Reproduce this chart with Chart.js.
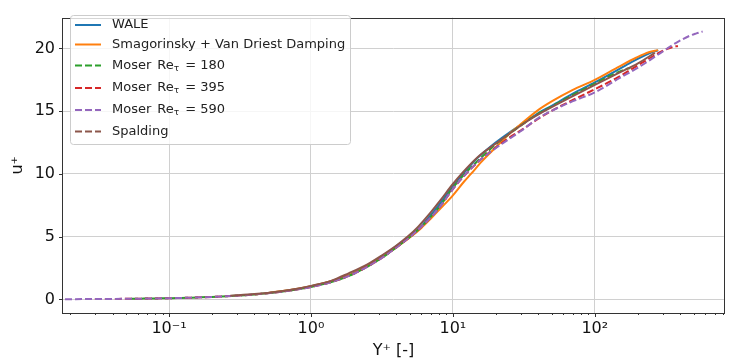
<!DOCTYPE html>
<html>
<head>
<meta charset="utf-8">
<script src="https://cdn.jsdelivr.net/npm/chart.js@4"></script>
<style>
body { margin: 0; background: #fff }
#wrap { width: 729px; height: 363px; position: relative }
</style>
</head>
<body>
<div id="wrap"><canvas id="chart"></canvas></div>
<script>
// velocity profiles (y+ and u+)
const waleYPlus = [0.5, 0.8, 1.0, 1.5, 2.0, 3.0, 4.0, 5.0, 6.0, 7.0, 8.0, 10, 12, 15, 20, 25, 30, 40, 50, 70, 100, 140, 180, 220, 260, 280]
const waleUPlus = [0.52, 0.84, 1.06, 1.58, 2.12, 3.25, 4.25, 5.05, 5.85, 6.75, 7.55, 9.05, 10.1, 11.3, 12.5, 13.3, 13.9, 14.85, 15.45, 16.4, 17.3, 18.2, 18.9, 19.4, 19.75, 19.85]

const smagYPlus = [0.5, 1.0, 2.0, 3.0, 4.0, 5.0, 6.0, 7.0, 8.1, 10, 12, 13.4, 16, 20.6, 25, 30, 39.4, 50, 70, 100, 140, 197, 240, 279]
const smagUPlus = [0.52, 1.05, 2.1, 3.2, 4.15, 4.95, 5.7, 6.45, 7.2, 8.3, 9.4, 10.0, 11.0, 12.25, 13.2, 13.95, 15.05, 15.8, 16.7, 17.5, 18.4, 19.28, 19.7, 19.87]

const m180YPlus = [0.054, 0.1, 0.2, 0.4, 0.7, 1.0, 1.5, 2.0, 3.0, 4.0, 5.0, 6.0, 7.0, 8.0, 10, 12, 15, 20, 25, 30, 40, 50, 70, 100, 130, 160, 178]
const m180UPlus = [0.054, 0.1, 0.2, 0.4, 0.7, 1.0, 1.5, 2.05, 3.15, 4.15, 5.0, 5.8, 6.6, 7.35, 8.9, 9.95, 11.05, 12.35, 13.2, 13.85, 14.8, 15.4, 16.3, 17.2, 17.85, 18.3, 18.45]

const m395YPlus = [0.03, 0.06, 0.1, 0.2, 0.4, 0.7, 1.0, 1.5, 2.0, 3.0, 4.0, 5.0, 6.0, 7.0, 8.0, 10, 12, 15, 20, 25, 30, 40, 50, 70, 100, 140, 197, 250, 300, 350, 385]
const m395UPlus = [0.03, 0.06, 0.1, 0.2, 0.4, 0.7, 1.0, 1.5, 2.05, 3.15, 4.15, 5.0, 5.8, 6.55, 7.3, 8.8, 9.85, 10.95, 12.1, 12.9, 13.45, 14.4, 15.05, 15.9, 16.75, 17.6, 18.6, 19.3, 19.8, 20.1, 20.2]

const m590YPlus = [0.0185, 0.04, 0.07, 0.1, 0.15, 0.2, 0.3, 0.5, 0.7, 1.0, 1.5, 2.0, 3.0, 4.0, 5.0, 6.0, 7.0, 8.0, 10, 12, 15, 20, 25, 30, 40, 50, 70, 100, 150, 200, 250, 300, 374, 464, 520, 575]
const m590UPlus = [0.02, 0.04, 0.07, 0.1, 0.15, 0.2, 0.3, 0.5, 0.7, 1.0, 1.5, 2.05, 3.15, 4.15, 5.0, 5.8, 6.55, 7.3, 8.8, 9.85, 10.95, 12.05, 12.8, 13.4, 14.45, 15.05, 15.8, 16.5, 17.65, 18.45, 19.15, 19.75, 20.45, 21.0, 21.2, 21.35]

const spaldingYPlus = [0.27, 0.4, 0.6, 0.82, 1.0, 1.4, 1.84, 2.5, 3.15, 4.0, 4.85, 5.7, 7.0, 8.1, 10, 11.7, 15, 21.7, 33.4, 44, 70, 100, 150, 200, 265]
const spaldingUPlus = [0.3, 0.43, 0.64, 0.87, 1.08, 1.5, 2.08, 2.8, 3.5, 4.3, 5.05, 5.8, 6.95, 7.85, 9.2, 10.1, 11.35, 12.7, 14.2, 15.0, 16.2, 17.1, 18.1, 18.8, 19.65]

const xMajorTicks = [0.1, 1, 10, 100]
const xMajorLabels = ["10⁻¹", "10⁰", "10¹", "10²"]
const yTicks = [0, 5, 10, 15, 20]

const series = [
	{ name: "WALE", x: waleYPlus, y: waleUPlus, color: "#1f77b4", dash: [] },
	{ name: "Smagorinsky + Van Driest Damping", x: smagYPlus, y: smagUPlus, color: "#ff7f0e", dash: [] },
	{ name: "Moser", sub: "180", x: m180YPlus, y: m180UPlus, color: "#2ca02c", dash: [7, 3] },
	{ name: "Moser", sub: "395", x: m395YPlus, y: m395UPlus, color: "#d62728", dash: [7, 3] },
	{ name: "Moser", sub: "590", x: m590YPlus, y: m590UPlus, color: "#9467bd", dash: [7, 3] },
	{ name: "Spalding", x: spaldingYPlus, y: spaldingUPlus, color: "#8c564b", dash: [], legendDash: [7, 3] },
]

const xTicks = []
for (let e = -2; e <= 2; e++) {
	for (let m = 1; m <= 9; m++) {
		const v = Number((m * Math.pow(10, e)).toPrecision(3))
		if (v < 0.0179 || v > 811) continue
		xTicks.push({ value: v, major: m == 1 })
	}
}

const FONT = "DejaVu Sans"

const decorations = {
	id: "decorations",
	afterDraw(chart) {
		const ctx = chart.ctx
		const area = chart.chartArea
		const xs = chart.scales.x
		const ys = chart.scales.y
		ctx.save()
		// frame
		ctx.strokeStyle = "#333"
		ctx.lineWidth = 1
		ctx.strokeRect(Math.round(area.left) - 0.5, Math.round(area.top) + 0.5, Math.round(area.right - area.left) + 1, Math.round(area.bottom - area.top))
		// tick marks
		ctx.beginPath()
		xTicks.forEach(t => {
			const px = Math.round(xs.getPixelForValue(t.value)) + 0.5
			ctx.moveTo(px, area.bottom)
			ctx.lineTo(px, area.bottom + (t.major ? 4 : 2))
		})
		yTicks.forEach(v => {
			const py = Math.round(ys.getPixelForValue(v)) + 0.5
			ctx.moveTo(area.left - 4, py)
			ctx.lineTo(area.left, py)
		})
		ctx.stroke()

		// axis titles
		ctx.fillStyle = "#111"
		ctx.font = "16px " + FONT
		ctx.textAlign = "center"
		ctx.textBaseline = "middle"
		ctx.fillText("Y⁺ [-]", (area.left + area.right) / 2, 351)
		ctx.save()
		ctx.translate(18, (area.top + area.bottom) / 2)
		ctx.rotate(-Math.PI / 2)
		ctx.fillText("u⁺", 0, 0)
		ctx.restore()

		// legend
		const bx = 70.5, by = 15.5, bw = 280, bh = 129
		ctx.beginPath()
		ctx.roundRect(bx, by, bw, bh, 3)
		ctx.fillStyle = "rgba(255,255,255,0.8)"
		ctx.fill()
		ctx.strokeStyle = "#cccccc"
		ctx.stroke()
		const rows = [25, 44.5, 65.5, 88, 110, 131.5]
		ctx.textAlign = "left"
		series.forEach((s, i) => {
			const y = rows[i]
			ctx.strokeStyle = s.color
			ctx.lineWidth = 2
			ctx.setLineDash(s.legendDash || s.dash)
			ctx.beginPath()
			ctx.moveTo(75, y)
			ctx.lineTo(101, y)
			ctx.stroke()
			ctx.setLineDash([])
			ctx.fillStyle = "#222"
			ctx.font = "13px " + FONT
			let x = 112
			if (s.sub) {
				ctx.fillText(s.name, x, y)
				x += ctx.measureText(s.name).width + 6
				ctx.fillText("Re", x, y)
				x += ctx.measureText("Re").width
				ctx.font = "9px " + FONT
				ctx.fillText("τ", x, y + 3)
				x += ctx.measureText("τ").width + 2
				ctx.font = "13px " + FONT
				ctx.fillText(" = " + s.sub, x, y)
			} else {
				ctx.fillText(s.name, x, y)
			}
		})
		ctx.restore()
	}
}

new Chart(document.getElementById("chart"), {
	type: "line",
	data: {
		datasets: series.map((s, i) => ({
			label: s.name,
			data: s.x.map((v, j) => ({ x: v, y: s.y[j] })),
			borderColor: s.color,
			borderWidth: 2,
			borderDash: s.dash,
			pointRadius: 0,
			fill: false,
			cubicInterpolationMode: "monotone",
			order: series.length - i,
		})),
	},
	options: {
		responsive: true,
		maintainAspectRatio: false,
		animation: false,
		devicePixelRatio: 1,
		layout: { padding: { top: 7, right: 1, left: 0, bottom: 0 } },
		plugins: { legend: { display: false }, tooltip: { enabled: false } },
		scales: {
			x: {
				type: "logarithmic",
				min: 0.0179,
				max: 811,
				afterFit(scale) { scale.height = 50 },
				afterBuildTicks(scale) { scale.ticks = xTicks.map(t => ({ value: t.value, major: t.major })) },
				border: { display: false },
				grid: {
					drawTicks: false,
					color: c => (c.tick && c.tick.major) ? "#d0d0d0" : "rgba(0,0,0,0)",
				},
				ticks: {
					autoSkip: false,
					maxRotation: 0,
					padding: 6,
					color: "#111",
					font: { family: FONT, size: 16 },
					callback: (v, i, ticks) => {
						const k = xMajorTicks.findIndex(m => Math.abs(m - v) < m * 1e-6)
						return k >= 0 ? xMajorLabels[k] : ""
					},
				},
			},
			y: {
				min: -1.08,
				max: 22.46,
				afterFit(scale) { scale.width = 63 },
				afterBuildTicks(scale) { scale.ticks = yTicks.map(v => ({ value: v })) },
				border: { display: false },
				grid: { drawTicks: false, color: "#d0d0d0" },
				ticks: {
					padding: 8,
					color: "#111",
					font: { family: FONT, size: 16 },
				},
			},
		},
	},
	plugins: [decorations],
})
</script>
</body>
</html>
